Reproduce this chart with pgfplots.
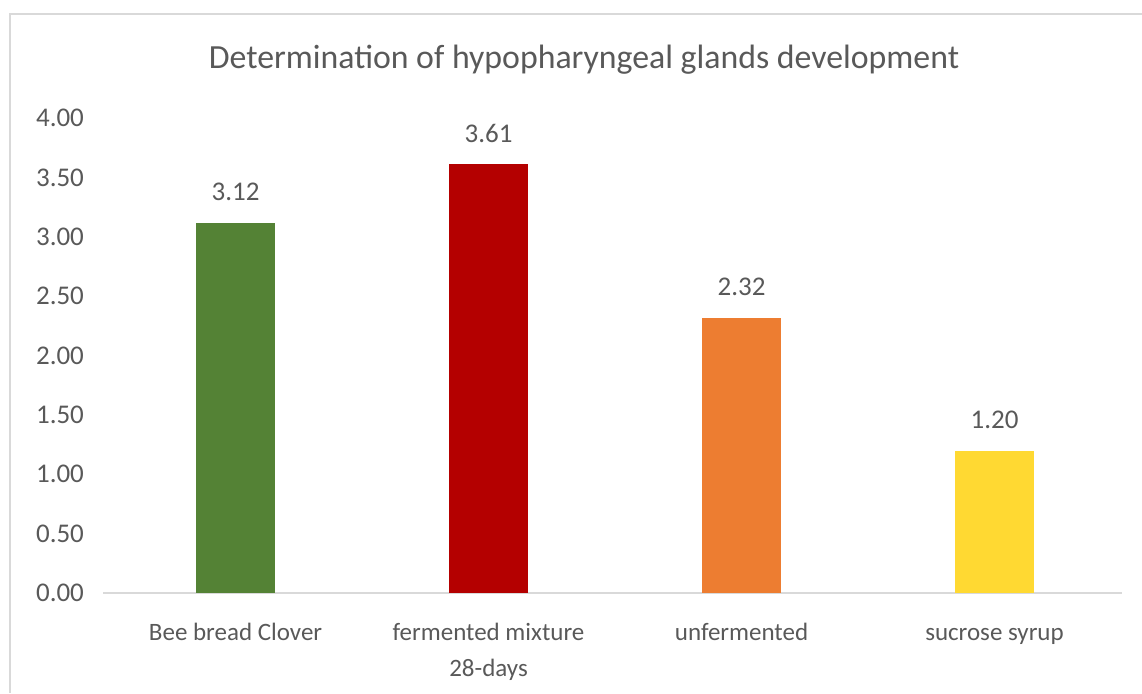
\documentclass[border=0pt]{standalone}
\usepackage{pgfplots}
\pgfplotsset{compat=1.18}
\usepackage{fontspec}
\setmainfont{Carlito}
\definecolor{txt}{HTML}{595959}
\definecolor{frm}{HTML}{D9D9D9}
\definecolor{cgreen}{HTML}{548235}
\definecolor{cred}{HTML}{B40000}
\definecolor{corange}{HTML}{ED7D31}
\definecolor{cyellow}{HTML}{FFD932}
\begin{document}
\begin{tikzpicture}
\path[use as bounding box] (0,0) rectangle (571pt,346.5pt);
\draw[frm, line width=1pt] (5pt,0) -- (5pt,339.5pt) -- (571pt,339.5pt);
\node[txt, font=\fontsize{16.9}{20}\selectfont] at (292pt,316.5pt) {Determination of hypopharyngeal glands development};
\begin{axis}[
  at={(51.5pt,50pt)}, anchor=south west,
  scale only axis, width=509.5pt, height=237.5pt,
  ymin=0, ymax=4, xmin=-0.524, xmax=3.504,
  axis lines*=left,
  x axis line style={draw=frm, line width=1pt, -},
  y axis line style={draw=none},
  major tick length=0pt,
  ytick={0,0.5,...,4},
  xtick={0,1,2,3},
  xticklabels={\strut Bee bread Clover, {\strut fermented mixture\\28-days}, \strut unfermented, \strut sucrose syrup},
  xticklabel style={align=center, text=txt, font=\fontsize{12.5}{18}\selectfont, yshift=-7.5pt},
  yticklabel style={text=txt, font=\fontsize{13.5}{16}\selectfont, xshift=-6pt},
  /pgf/number format/assume math mode=true,
  yticklabel={\pgfmathprintnumber[fixed, fixed zerofill, precision=2]{\tick}},
  ybar, bar width=39.5pt, bar shift=0pt,
  nodes near coords={\pgfmathprintnumber[fixed, fixed zerofill, precision=2]{\pgfplotspointmeta}},
  nodes near coords style={text=txt, font=\fontsize{13.5}{16}\selectfont, yshift=7.5pt},
  clip=false,
]
\addplot[fill=cgreen, draw=none] coordinates {(0,3.12)};
\addplot[fill=cred, draw=none] coordinates {(1,3.61)};
\addplot[fill=corange, draw=none] coordinates {(2,2.32)};
\addplot[fill=cyellow, draw=none] coordinates {(3,1.20)};
\end{axis}
\end{tikzpicture}
\end{document}
